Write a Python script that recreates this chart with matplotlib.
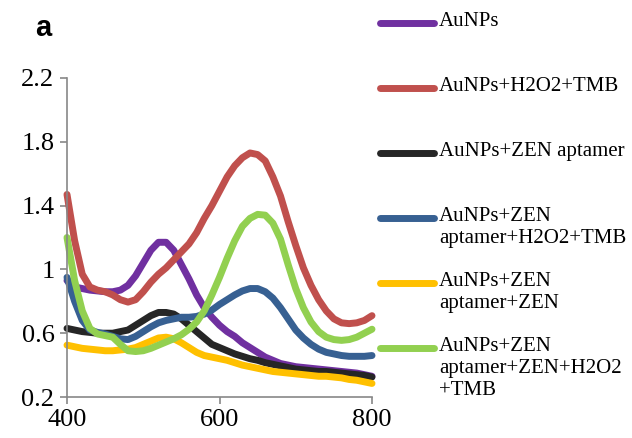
import matplotlib
matplotlib.use('Agg')
import matplotlib.pyplot as plt
from matplotlib.lines import Line2D

plt.rcParams['font.family'] = 'Liberation Serif'

# wavelength (nm)
wavelength = list(range(400, 801, 10))

aunps = [0.93, 0.89, 0.88, 0.87, 0.865, 0.86, 0.86, 0.87, 0.90, 0.96, 1.04,
         1.12, 1.17, 1.17, 1.12, 1.03, 0.94, 0.84, 0.76, 0.70, 0.65,
         0.61, 0.58, 0.54, 0.51, 0.48, 0.45, 0.43, 0.41, 0.40, 0.39,
         0.385, 0.38, 0.375, 0.37, 0.365, 0.36, 0.355, 0.35, 0.34, 0.33]

aunps_h2o2_tmb = [1.47, 1.18, 0.97, 0.89, 0.87, 0.86, 0.84, 0.81, 0.795, 0.81, 0.86,
                  0.92, 0.97, 1.01, 1.06, 1.11, 1.16, 1.23, 1.32, 1.40, 1.49,
                  1.58, 1.65, 1.70, 1.73, 1.72, 1.68, 1.58, 1.46, 1.30, 1.15,
                  1.01, 0.90, 0.81, 0.74, 0.69, 0.665, 0.66, 0.665, 0.68, 0.71]

aunps_apt = [0.63, 0.62, 0.61, 0.605, 0.60, 0.60, 0.60, 0.61, 0.62, 0.65, 0.68,
             0.71, 0.73, 0.73, 0.72, 0.69, 0.65, 0.61, 0.57, 0.53, 0.51,
             0.49, 0.47, 0.455, 0.44, 0.43, 0.415, 0.405, 0.395, 0.385, 0.375,
             0.37, 0.365, 0.36, 0.36, 0.355, 0.35, 0.345, 0.34, 0.335, 0.325]

aunps_apt_h2o2_tmb = [0.95, 0.80, 0.68, 0.62, 0.605, 0.595, 0.58, 0.565, 0.56, 0.58, 0.61,
                      0.64, 0.665, 0.68, 0.69, 0.70, 0.70, 0.705, 0.72, 0.745, 0.78,
                      0.81, 0.84, 0.865, 0.88, 0.88, 0.86, 0.82, 0.76, 0.69, 0.62,
                      0.57, 0.53, 0.50, 0.48, 0.47, 0.46, 0.455, 0.455, 0.455, 0.46]

aunps_apt_zen = [0.525, 0.515, 0.505, 0.50, 0.495, 0.49, 0.49, 0.495, 0.50, 0.51, 0.53,
                 0.55, 0.57, 0.575, 0.565, 0.54, 0.51, 0.48, 0.46, 0.45, 0.44,
                 0.43, 0.415, 0.40, 0.39, 0.38, 0.37, 0.36, 0.355, 0.35, 0.345,
                 0.34, 0.335, 0.33, 0.33, 0.325, 0.32, 0.31, 0.305, 0.295, 0.285]

aunps_apt_zen_h2o2_tmb = [1.20, 0.93, 0.74, 0.63, 0.595, 0.585, 0.575, 0.53, 0.49, 0.485, 0.49,
                          0.505, 0.525, 0.545, 0.565, 0.59, 0.625, 0.67, 0.74, 0.84, 0.95,
                          1.07, 1.18, 1.27, 1.32, 1.345, 1.34, 1.29, 1.19, 1.03, 0.88,
                          0.76, 0.67, 0.61, 0.575, 0.56, 0.555, 0.56, 0.575, 0.60, 0.625]

series = [aunps, aunps_h2o2_tmb, aunps_apt, aunps_apt_h2o2_tmb,
          aunps_apt_zen, aunps_apt_zen_h2o2_tmb]
labels = ['AuNPs', 'AuNPs+H2O2+TMB', 'AuNPs+ZEN aptamer',
          'AuNPs+ZEN\naptamer+H2O2+TMB', 'AuNPs+ZEN\naptamer+ZEN',
          'AuNPs+ZEN\naptamer+ZEN+H2O2\n+TMB']
colors = ['#7030A0', '#C0504D', '#262626', '#376092', '#FFC000', '#92D050']

W, H = 632, 438
fig = plt.figure(figsize=(W / 100, H / 100), dpi=100)
ax = fig.add_axes([67 / W, 1 - 397 / H, (372 - 67) / W, (397 - 78) / H])

for y, c in zip(series, colors):
    ax.plot(wavelength, y, color=c, lw=5, solid_capstyle='round',
            solid_joinstyle='round', clip_on=False)

ax.set_xlim(400, 800)
ax.set_ylim(0.2, 2.2)
ax.set_xticks([400, 600, 800])
ax.set_yticks([0.2, 0.6, 1.0, 1.4, 1.8, 2.2])
ax.set_yticklabels(['0.2', '0.6', '1', '1.4', '1.8', '2.2'])
for s in ['top', 'right']:
    ax.spines[s].set_visible(False)
for s in ['left', 'bottom']:
    ax.spines[s].set_color('#888888')
    ax.spines[s].set_linewidth(1.2)
ax.tick_params(direction='out', length=5, width=1.2, color='#888888',
               labelsize=19, pad=4)

# legend drawn by hand so handles line up with the first text line
for i, (lab, c) in enumerate(zip(labels, colors)):
    yp = 1 - (23 + 65 * i) / H
    fig.add_artist(Line2D([380 / W, 434 / W], [yp, yp], color=c, lw=5,
                          solid_capstyle='round', transform=fig.transFigure))
    fig.text(439 / W, yp + 11 / H, lab, fontsize=15,
             va='top', ha='left', linespacing=1.2)

fig.text(35 / W, 1 - 28 / H, 'a', fontsize=21, fontweight='bold',
         family='Liberation Sans', va='center', ha='left')

fig.savefig('out.png', dpi=100)
